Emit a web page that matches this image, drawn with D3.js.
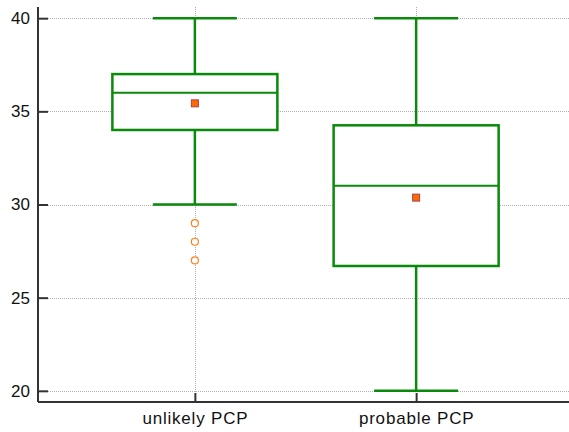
<!DOCTYPE html>
<html lang="en">
<head>
<meta charset="utf-8">
<title>Box plot: unlikely vs probable PCP</title>
<script src="https://cdn.jsdelivr.net/npm/d3@7"></script>
<style>
  body { margin: 0; background: #fff; }
  text { font-family: "Liberation Sans", Arial, sans-serif; fill: #111; }
  .grid line { stroke: #b0b0b0; stroke-width: 1; stroke-dasharray: 1,1; }
</style>
</head>
<body>
<script>
// categories and box statistics
var categories = ["unlikely PCP", "probable PCP"];
var whiskerLow = [30, 20];
var q1 = [34, 26.7];
var median = [36, 31];
var q3 = [37, 34.25];
var whiskerHigh = [40, 40];
var means = [35.43, 30.37];
var outliers = [[29, 28, 27], []];
var yTicks = [20, 25, 30, 35, 40];

var w = 569, h = 432;
var padL = 38, padB = 402, padT = 7, padR = 569;

var svg = d3.select("body").append("svg")
  .attr("width", w).attr("height", h);

var x = d3.scalePoint().domain(categories).range([padL + 2, padR + 2]).padding(0.7);
var y = d3.scaleLinear().domain([19.4, 40.6]).range([padB, padT]);

var boxW = 165, capW = 84;

// grid
var grid = svg.append("g").attr("class", "grid");
grid.selectAll(".hy").data(yTicks).enter().append("line")
  .attr("x1", padL + 10).attr("x2", padR)
  .attr("y1", function(d) { return Math.round(y(d)) + 0.5; })
  .attr("y2", function(d) { return Math.round(y(d)) + 0.5; });
grid.selectAll(".vx").data(categories).enter().append("line")
  .attr("x1", function(d) { return Math.round(x(d)) + 0.5; })
  .attr("x2", function(d) { return Math.round(x(d)) + 0.5; })
  .attr("y1", padT).attr("y2", padB - 9);

var green = "#0a8a0a";
var boxes = svg.selectAll(".box").data(categories).enter().append("g");

// whiskers
boxes.append("line")
  .attr("x1", function(d) { return x(d); }).attr("x2", function(d) { return x(d); })
  .attr("y1", function(d, i) { return y(whiskerLow[i]); })
  .attr("y2", function(d, i) { return y(q1[i]); })
  .attr("stroke", green).attr("stroke-width", 2.5);
boxes.append("line")
  .attr("x1", function(d) { return x(d); }).attr("x2", function(d) { return x(d); })
  .attr("y1", function(d, i) { return y(q3[i]); })
  .attr("y2", function(d, i) { return y(whiskerHigh[i]); })
  .attr("stroke", green).attr("stroke-width", 2.5);
// caps
[whiskerLow, whiskerHigh].forEach(function(arr) {
  boxes.append("line")
    .attr("x1", function(d) { return x(d) - capW / 2; })
    .attr("x2", function(d) { return x(d) + capW / 2; })
    .attr("y1", function(d, i) { return y(arr[i]); })
    .attr("y2", function(d, i) { return y(arr[i]); })
    .attr("stroke", green).attr("stroke-width", 2.5);
});
// box
boxes.append("rect")
  .attr("x", function(d) { return x(d) - boxW / 2; })
  .attr("width", boxW)
  .attr("y", function(d, i) { return y(q3[i]); })
  .attr("height", function(d, i) { return y(q1[i]) - y(q3[i]); })
  .attr("fill", "#fff").attr("stroke", green).attr("stroke-width", 2.5);
// median
boxes.append("line")
  .attr("x1", function(d) { return x(d) - boxW / 2; })
  .attr("x2", function(d) { return x(d) + boxW / 2; })
  .attr("y1", function(d, i) { return y(median[i]); })
  .attr("y2", function(d, i) { return y(median[i]); })
  .attr("stroke", green).attr("stroke-width", 2);
// mean
boxes.append("rect")
  .attr("x", function(d) { return x(d) - 3.5; })
  .attr("y", function(d, i) { return y(means[i]) - 3.5; })
  .attr("width", 7).attr("height", 7)
  .attr("fill", "#ff6a00").attr("stroke", "#a8414f").attr("stroke-width", 1);
// outliers
boxes.each(function(d, i) {
  d3.select(this).selectAll("circle").data(outliers[i]).enter().append("circle")
    .attr("cx", x(d))
    .attr("cy", function(v) { return y(v); })
    .attr("r", 3.5)
    .attr("fill", "#fff").attr("stroke", "#ff7f1e").attr("stroke-width", 1.2);
});

// axes
var yAxis = d3.axisLeft(y).tickValues(yTicks).tickSize(-10).tickPadding(8).tickSizeOuter(0);
var gy = svg.append("g").attr("transform", "translate(" + padL + ",0)").call(yAxis);
var xAxis = d3.axisBottom(x).tickSize(-9).tickPadding(10).tickSizeOuter(0);
var gx = svg.append("g").attr("transform", "translate(0," + padB + ")").call(xAxis);
gy.select(".domain").attr("d", "M0," + padT + "V" + padB);
gx.select(".domain").attr("d", "M" + padL + ",0H" + padR);
[gy, gx].forEach(function(g) {
  g.selectAll(".domain, .tick line").attr("stroke", "#333").attr("stroke-width", 2);
  g.selectAll("text").attr("font-size", 17).attr("fill", "#111")
    .style("font-family", "'Liberation Sans', Arial, sans-serif");
});
gx.selectAll("text").style("letter-spacing", "0.8px");
</script>
</body>
</html>
